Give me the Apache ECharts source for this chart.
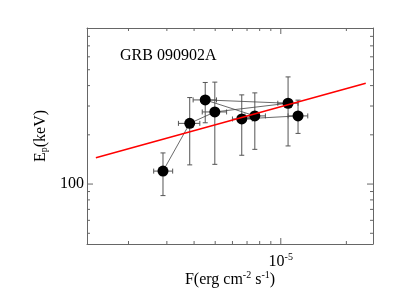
<!DOCTYPE html>
<html>
<head>
<meta charset="utf-8">
<script src="https://cdn.jsdelivr.net/npm/echarts@6/dist/echarts.min.js"></script>
<style>html,body{margin:0;padding:0;background:#fff;}#c{width:400px;height:300px;}</style>
</head>
<body>
<div id="c"></div>
<script>
// Data (time-ordered points)
var xVal = [2.88e-6, 3.82e-6, 4.50e-6, 4.98e-6, 6.62e-6, 7.60e-6, 1.08e-5, 1.20e-5];
var xLo  = [2.61e-6, 3.39e-6, 3.96e-6, 4.36e-6, 6.00e-6, 6.85e-6, 9.69e-6, 1.08e-5];
var xHi  = [3.19e-6, 4.25e-6, 5.07e-6, 5.64e-6, 7.40e-6, 8.50e-6, 1.20e-5, 1.33e-5];
var yVal = [120, 235, 327, 276, 250, 261, 312, 261];
var yLo  = [85, 131, 237, 132, 150, 163, 171, 204];
var yHi  = [155, 338, 418, 420, 351, 361, 452, 326];
var pathOrder = [0, 1, 3, 6, 2, 5, 4, 7];
var fitX = [1.417e-6, 2.455e-5];
var fitY = [144.7, 413.7];
var xMin = 1.29e-6, xMax = 2.65e-5;
var yMin = 43, yMax = 900;
var xMajorTicks = [1e-5];
var xMinorTicks = [2e-6, 3e-6, 4e-6, 5e-6, 6e-6, 7e-6, 8e-6, 9e-6, 2e-5];
var yMajorTicks = [100];
var yMinorTicks = [50, 60, 70, 80, 90, 200, 300, 400, 500, 600, 700, 800];

var AX = '#666';
var FONT = 'Liberation Serif';

function tickSeries(vals, isX, len) {
  return {
    type: 'custom', silent: true, clip: false, z: 1,
    data: vals.map(function (v) { return isX ? [v, yMin] : [xMin, v]; }),
    renderItem: function (params, api) {
      var v = api.value(isX ? 0 : 1);
      var a, b;
      if (isX) { a = api.coord([v, yMin]); b = api.coord([v, yMax]); }
      else { a = api.coord([xMin, v]); b = api.coord([xMax, v]); }
      var st = { stroke: AX, lineWidth: 1 };
      if (isX) {
        return { type: 'group', children: [
          { type: 'line', shape: { x1: a[0], y1: a[1], x2: a[0], y2: a[1] - len }, style: st },
          { type: 'line', shape: { x1: b[0], y1: b[1], x2: b[0], y2: b[1] + len }, style: st }
        ]};
      }
      return { type: 'group', children: [
        { type: 'line', shape: { x1: a[0], y1: a[1], x2: a[0] + len, y2: a[1] }, style: st },
        { type: 'line', shape: { x1: b[0], y1: b[1], x2: b[0] - len, y2: b[1] }, style: st }
      ]};
    }
  };
}

var errData = xVal.map(function (x, i) { return [x, yVal[i], xLo[i], xHi[i], yLo[i], yHi[i]]; });
var pathData = pathOrder.map(function (i) { return [xVal[i], yVal[i]]; });

var chart = echarts.init(document.getElementById('c'), null, { renderer: 'canvas' });
chart.setOption({
  animation: false,
  backgroundColor: '#fff',
  grid: { left: 87, right: 27, top: 28, bottom: 56 },
  xAxis: [{
    type: 'log', logBase: 10, min: xMin, max: xMax,
    axisLine: { show: true, lineStyle: { color: AX, width: 1 } },
    axisTick: { show: false }, splitLine: { show: false },
    axisLabel: {
      margin: 8, showMinLabel: false, showMaxLabel: false,
      formatter: function (v) { return Math.abs(Math.log10(v) + 5) < 1e-6 ? '{n|10}{s|-5}' : ''; },
      rich: {
        n: { fontFamily: FONT, fontSize: 16, color: '#000' },
        s: { fontFamily: FONT, fontSize: 10, color: '#000', padding: [0, 0, 9, 0] }
      }
    },
    name: '{n|F(erg cm}{s|-2}{n| s}{s|-1}{n|)}',
    nameLocation: 'middle', nameGap: 26, nameMoveOverlap: false,
    nameTextStyle: {
      rich: {
        n: { fontFamily: FONT, fontSize: 16, color: '#000' },
        s: { fontFamily: FONT, fontSize: 10, color: '#000', padding: [0, 0, 9, 0] }
      }
    }
  }, {
    type: 'log', logBase: 10, min: xMin, max: xMax, position: 'top',
    axisLine: { show: true, lineStyle: { color: AX, width: 1 } },
    axisTick: { show: false }, axisLabel: { show: false }, splitLine: { show: false }
  }],
  yAxis: [{
    type: 'log', logBase: 10, min: yMin, max: yMax,
    axisLine: { show: true, lineStyle: { color: AX, width: 1 } },
    axisTick: { show: false }, splitLine: { show: false },
    axisLabel: {
      margin: 3, fontFamily: FONT, fontSize: 16, color: '#000',
      showMinLabel: false, showMaxLabel: false,
      formatter: function (v) { return Math.abs(Math.log10(v) - 2) < 1e-6 ? '100' : ''; }
    },
    name: '{n|E}{p|p}{n|(keV)}',
    nameLocation: 'middle', nameGap: 38, nameRotate: 90,
    nameTextStyle: {
      rich: {
        n: { fontFamily: FONT, fontSize: 16, color: '#000' },
        p: { fontFamily: FONT, fontSize: 10, color: '#000', padding: [6, 0, 0, 0] }
      }
    }
  }, {
    type: 'log', logBase: 10, min: yMin, max: yMax, position: 'right',
    axisLine: { show: true, lineStyle: { color: AX, width: 1 } },
    axisTick: { show: false }, axisLabel: { show: false }, splitLine: { show: false }
  }],
  graphic: [{
    type: 'text', left: 120, top: 48,
    style: { text: 'GRB 090902A', fontFamily: FONT, fontSize: 16, fill: '#000' }
  }],
  series: [
    tickSeries(xMinorTicks, true, 3),
    tickSeries(xMajorTicks, true, 6),
    tickSeries(yMinorTicks, false, 3),
    tickSeries(yMajorTicks, false, 6),
    {
      type: 'custom', silent: true, z: 2,
      data: errData,
      renderItem: function (params, api) {
        var c = api.coord([api.value(0), api.value(1)]);
        var l = api.coord([api.value(2), api.value(1)]);
        var r = api.coord([api.value(3), api.value(1)]);
        var lo = api.coord([api.value(0), api.value(4)]);
        var hi = api.coord([api.value(0), api.value(5)]);
        var st = { stroke: '#555', lineWidth: 1 };
        var cap = 2.5;
        return { type: 'group', children: [
          { type: 'line', shape: { x1: l[0], y1: c[1], x2: r[0], y2: c[1] }, style: st },
          { type: 'line', shape: { x1: l[0], y1: c[1] - cap, x2: l[0], y2: c[1] + cap }, style: st },
          { type: 'line', shape: { x1: r[0], y1: c[1] - cap, x2: r[0], y2: c[1] + cap }, style: st },
          { type: 'line', shape: { x1: c[0], y1: lo[1], x2: c[0], y2: hi[1] }, style: st },
          { type: 'line', shape: { x1: c[0] - cap, y1: lo[1], x2: c[0] + cap, y2: lo[1] }, style: st },
          { type: 'line', shape: { x1: c[0] - cap, y1: hi[1], x2: c[0] + cap, y2: hi[1] }, style: st }
        ]};
      }
    },
    {
      type: 'line', data: pathData, z: 3, silent: true,
      symbol: 'none', lineStyle: { color: '#444', width: 0.8 }
    },
    {
      type: 'scatter', data: xVal.map(function (x, i) { return [x, yVal[i]]; }), z: 4, silent: true,
      symbol: 'circle', symbolSize: 11, itemStyle: { color: '#000', opacity: 1 }
    },
    {
      type: 'line', data: fitX.map(function (x, i) { return [x, fitY[i]]; }), z: 5, silent: true,
      symbol: 'none', lineStyle: { color: '#ff0000', width: 1.5 }
    }
  ]
});
</script>
</body>
</html>
